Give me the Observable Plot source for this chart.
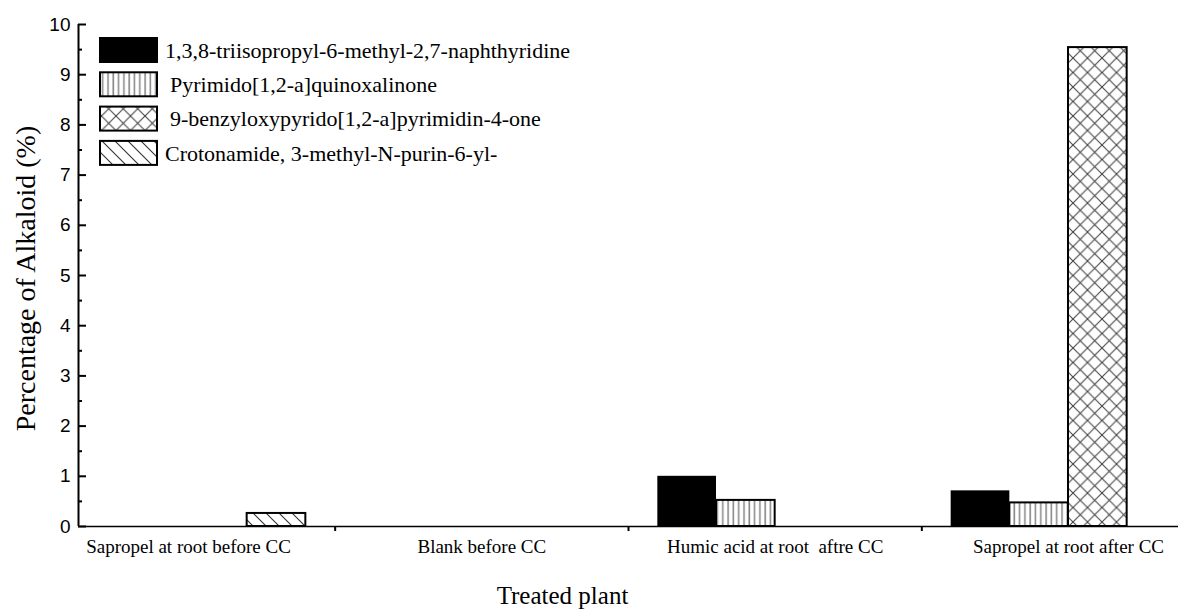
<!DOCTYPE html>
<html><head><meta charset="utf-8">
<script src="https://cdn.jsdelivr.net/npm/d3@7"></script>
<script src="https://cdn.jsdelivr.net/npm/@observablehq/plot@0.6"></script>
<style>
body{margin:0;background:#fff}
#chart{position:relative;width:1181px;height:613px}
</style>
</head><body>
<svg width="0" height="0" style="position:absolute">
<defs>
<pattern id="p-vert" patternUnits="userSpaceOnUse" width="5.3" height="10">
<rect width="5.3" height="10" fill="#fff"/>
<line x1="2" y1="0" x2="2" y2="10" stroke="#8a8a8a" stroke-width="1.6"/>
</pattern>
<pattern id="p-cross" patternUnits="userSpaceOnUse" width="14.5" height="14.5">
<rect width="14.5" height="14.5" fill="#fff"/>
<path d="M0,0L14.5,14.5M14.5,0L0,14.5" stroke="#444" stroke-width="1.1" fill="none"/>
</pattern>
<pattern id="p-diag" patternUnits="userSpaceOnUse" width="13" height="13">
<rect width="13" height="13" fill="#fff"/>
<path d="M0,0L13,13M-3,10L3,16M10,-3L16,3" stroke="#333" stroke-width="1.1" fill="none"/>
</pattern>
</defs>
</svg>
<div id="chart"></div>
<script>
// ---- data ----
const categories = ["Sapropel at root before CC", "Blank before CC", "Humic acid at root  aftre CC", "Sapropel at root after CC"];
const seriesNames = [
  "1,3,8-triisopropyl-6-methyl-2,7-naphthyridine",
  "Pyrimido[1,2-a]quinoxalinone",
  "9-benzyloxypyrido[1,2-a]pyrimidin-4-one",
  "Crotonamide, 3-methyl-N-purin-6-yl-"
];
const naphthyridine = [0, 0, 1.0, 0.71];
const quinoxalinone = [0, 0, 0.52, 0.47];
const benzyloxy = [0, 0, 0, 9.54];
const crotonamide = [0.26, 0, 0, 0];
const yTicks = [0, 1, 2, 3, 4, 5, 6, 7, 8, 9, 10];
const xTitle = "Treated plant";
const yTitle = "Percentage of Alkaloid (%)";

// ---- styles / layout ----
const seriesValues = [naphthyridine, quinoxalinone, benzyloxy, crotonamide];
const seriesFills = ["#000", "url(#p-vert)", "url(#p-cross)", "url(#p-diag)"];
const barW = 0.2;
const groupW = barW * seriesNames.length;
const xDomain = [0.625, categories.length + 0.375];

const rows = [];
categories.forEach((c, i) => seriesValues.forEach((vals, j) => rows.push({cat: i + 1, series: j, value: vals[i]})));

const serif = "Liberation Serif, Times New Roman, serif";
const sans = "Liberation Sans, Arial, sans-serif";

const chart = Plot.plot({
  width: 1181, height: 613,
  marginLeft: 78, marginRight: 3, marginTop: 24, marginBottom: 87,
  x: {domain: xDomain},
  y: {domain: [0, 10]},
  style: {fontFamily: serif, color: "#000", background: "#fff"},
  marks: [
    ...seriesNames.map((s, j) => Plot.rectY(rows.filter(d => d.series === j && d.value > 0), {
      x1: d => d.cat - groupW / 2 + j * barW,
      x2: d => d.cat - groupW / 2 + (j + 1) * barW,
      y1: 0, y2: "value",
      fill: seriesFills[j],
      stroke: "#000", strokeWidth: j === 0 ? 0 : 2
    })),
    Plot.ruleY([0], {stroke: "#000", strokeWidth: 1.5}),
    Plot.ruleX([xDomain[0]], {stroke: "#000", strokeWidth: 2}),
    // major ticks (inward)
    Plot.axisY({ticks: yTicks, tickSize: 8, dx: 8, strokeWidth: 2, tickFormat: () => "", label: null}),
    // minor ticks (inward)
    Plot.axisY({ticks: yTicks.slice(0, -1).map(t => t + 0.5), tickSize: 4, dx: 4, strokeWidth: 2, tickFormat: () => "", label: null}),
    // y tick labels
    Plot.axisY({ticks: yTicks, tickSize: 0, tickPadding: 8, fontFamily: sans, fontSize: 19, label: null}),
    Plot.axisX({ticks: categories.slice(0, -1).map((c, i) => i + 1.5), tickSize: 5, strokeWidth: 2, tickFormat: () => "", label: null}),
    Plot.axisX({ticks: categories.map((c, i) => i + 1), tickSize: 0, tickPadding: 13, tickFormat: i => categories[i - 1], fontFamily: serif, fontSize: 19, label: null}),
    Plot.text([yTitle], {frameAnchor: "left", textAnchor: "middle", rotate: -90, dx: -52, dy: 3, fontSize: 28, fontFamily: serif}),
    Plot.text([xTitle], {frameAnchor: "bottom", textAnchor: "middle", dy: 77, dx: -66, fontSize: 25, fontFamily: serif})
  ]
});

// legend
const svg = d3.select(chart);
svg.selectAll("text").style("white-space", "pre");
const lg = svg.append("g").attr("class", "legend").attr("text-anchor", "start");
seriesNames.forEach((name, j) => {
  const y0 = 38 + j * 34.3;
  lg.append("rect").attr("x", 100).attr("y", y0).attr("width", 57).attr("height", 24)
    .attr("fill", seriesFills[j]).attr("stroke", "#000").attr("stroke-width", 2);
  lg.append("text").attr("x", j === 0 || j === 3 ? 165 : 170).attr("y", y0 + 12).attr("dy", "0.35em")
    .attr("font-family", serif).attr("font-size", 22).attr("fill", "#000").text(name);
});
document.getElementById("chart").appendChild(chart);
</script>
</body></html>
